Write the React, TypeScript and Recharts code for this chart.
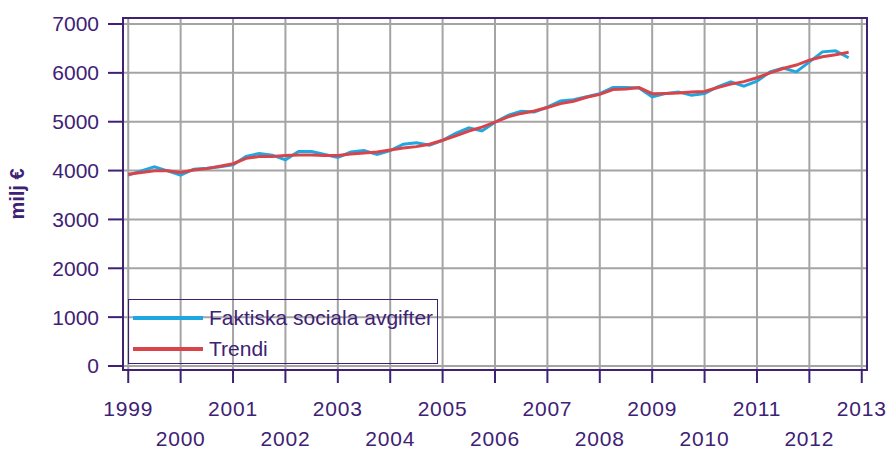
import React from "react";
import {
  CartesianGrid,
  Legend,
  Line,
  LineChart,
  ReferenceArea,
  XAxis,
  YAxis,
} from "recharts";

const PURPLE = "#3e2174";
const BLUE = "#1fa7e1";
const RED = "#d9444b";
const GRID = "#a4a4a4";
const FONT = "'Liberation Sans', Arial, sans-serif";

const years = [1999, 2000, 2001, 2002, 2003, 2004, 2005, 2006, 2007, 2008, 2009, 2010, 2011, 2012];
const quarterLabels = years.flatMap((y) => ["Q1", "Q2", "Q3", "Q4"].map((q) => `${y}${q}`));

// Faktiska sociala avgifter, milj €
const actual = [
  3906, 3994, 4076, 3994,
  3906, 4030, 4050, 4076,
  4120, 4290, 4350, 4315,
  4220, 4390, 4390, 4330,
  4270, 4380, 4410, 4330,
  4410, 4540, 4570, 4520,
  4620, 4760, 4875, 4810,
  4990, 5130, 5215, 5200,
  5300, 5425, 5450, 5510,
  5575, 5700, 5700, 5690,
  5510, 5575, 5610, 5540,
  5575, 5715, 5815, 5730,
  5830, 6020, 6100, 6020,
  6225, 6430, 6450, 6310,
];

// Trendi
const trend = [
  3926, 3960, 3994, 3994,
  3960, 4010, 4040, 4090,
  4140, 4250, 4290, 4290,
  4310, 4320, 4320, 4310,
  4310, 4340, 4360, 4380,
  4420, 4460, 4490, 4540,
  4620, 4710, 4810, 4890,
  4990, 5100, 5170, 5220,
  5290, 5370, 5420, 5500,
  5560, 5660, 5670, 5700,
  5575, 5580, 5590, 5610,
  5620, 5700, 5770, 5820,
  5900, 6000, 6090, 6160,
  6260, 6330, 6370, 6420,
];

const xTicks = [1999, 2000, 2001, 2002, 2003, 2004, 2005, 2006, 2007, 2008, 2009, 2010, 2011, 2012, 2013];
const yTicks = [0, 1000, 2000, 3000, 4000, 5000, 6000, 7000];

const X_DOMAIN = [1998.9, 2013.1];
const Y_DOMAIN = [-82, 7123];

const data = quarterLabels.map((label, i) => ({
  x: Number(label.slice(0, 4)) + (Number(label.slice(5)) - 1) / 4,
  actual: actual[i],
  trend: trend[i],
}));

function YearTick(props: any) {
  const { x, y, payload } = props;
  const odd = payload.value % 2 === 1;
  return (
    <text
      x={x}
      y={y + (odd ? 31 : 61)}
      textAnchor="middle"
      fill={PURPLE}
      fontSize={21}
      fontFamily={FONT}
      letterSpacing={0.8}
    >
      {payload.value}
    </text>
  );
}

function LegendBox(props: any) {
  const items = props.payload || [];
  return (
    <div
      style={{
        width: 310,
        height: 65,
        boxSizing: "border-box",
        border: `1.5px solid ${PURPLE}`,
        position: "relative",
        fontFamily: FONT,
      }}
    >
      {items.map((item: any, i: number) => (
        <div key={i}>
          <div
            style={{
              position: "absolute",
              left: 4,
              top: 16 + i * 31,
              width: 70,
              height: 4,
              background: item.color,
            }}
          />
          <div
            style={{
              position: "absolute",
              left: 80,
              top: 5 + i * 31,
              fontSize: 21,
              lineHeight: "26px",
              color: PURPLE,
              whiteSpace: "nowrap",
            }}
          >
            {item.value}
          </div>
        </div>
      ))}
    </div>
  );
}

export default function App() {
  return (
    <div style={{ position: "absolute", left: 0, top: 0, width: 890, height: 450, background: "#fff" }}>
      <LineChart
        width={890}
        height={450}
        data={data}
        margin={{ top: 18, right: 23, bottom: 0, left: 0 }}
      >
        <CartesianGrid stroke={GRID} strokeWidth={2} />
        <XAxis
          type="number"
          dataKey="x"
          domain={X_DOMAIN}
          ticks={xTicks}
          allowDataOverflow
          interval={0}
          height={80}
          tickSize={13}
          tickMargin={2}
          tickLine={{ stroke: PURPLE, strokeWidth: 2 }}
          axisLine={{ stroke: PURPLE, strokeWidth: 2 }}
          tick={<YearTick />}
        />
        <YAxis
          type="number"
          domain={Y_DOMAIN}
          ticks={yTicks}
          allowDataOverflow
          interval={0}
          width={123}
          tickSize={15}
          tickMargin={9}
          tickLine={{ stroke: PURPLE, strokeWidth: 2 }}
          axisLine={{ stroke: PURPLE, strokeWidth: 2 }}
          tick={{ fill: PURPLE, fontSize: 21, fontFamily: FONT }}
          label={{
            content: () => (
              <text
                x={24}
                y={194}
                transform="rotate(-90 24 194)"
                textAnchor="middle"
                fill={PURPLE}
                fontSize={20}
                fontWeight="bold"
                fontFamily={FONT}
              >
                milj €
              </text>
            ),
          }}
        />
        <ReferenceArea
          x1={X_DOMAIN[0]}
          x2={X_DOMAIN[1]}
          y1={Y_DOMAIN[0]}
          y2={Y_DOMAIN[1]}
          fill="none"
          stroke={PURPLE}
          strokeWidth={2}
          ifOverflow="visible"
        />
        <Line
          type="linear"
          dataKey="actual"
          name="Faktiska sociala avgifter"
          stroke={BLUE}
          strokeWidth={3}
          dot={false}
          isAnimationActive={false}
        />
        <Line
          type="linear"
          dataKey="trend"
          name="Trendi"
          stroke={RED}
          strokeWidth={3}
          dot={false}
          isAnimationActive={false}
        />
        <Legend
          layout="vertical"
          align="center"
          verticalAlign="middle"
          content={<LegendBox />}
          wrapperStyle={{ left: 128, top: 299, width: 310, height: 65 }}
        />
      </LineChart>
    </div>
  );
}
